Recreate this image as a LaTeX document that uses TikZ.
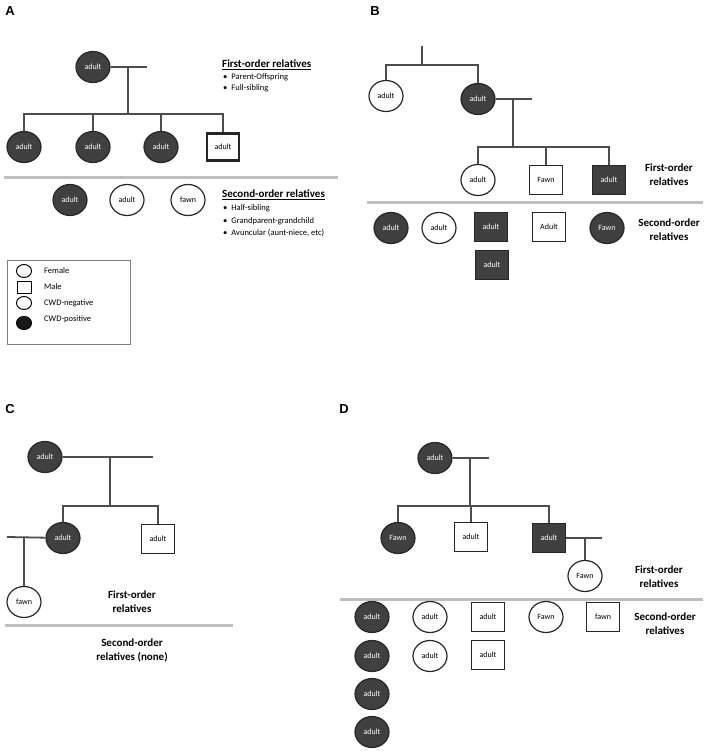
\documentclass[tikz,border=0pt]{standalone}
\usepackage{fontspec}
\setmainfont{Carlito}
\newfontfamily\labfont{Liberation Sans}
\usetikzlibrary{shapes.geometric}
\definecolor{dk}{HTML}{404040}
\definecolor{ln}{HTML}{4D4D4D}
\definecolor{sepc}{HTML}{BFBFBF}
\begin{document}
\begin{tikzpicture}[x=1pt,y=-1pt,
  fem/.style={ellipse, draw=black!85, line width=1.2pt, minimum width=34pt, minimum height=31pt, inner sep=0pt, font=\fontsize{8}{9}\selectfont},
  mal/.style={rectangle, draw=black!85, line width=1.2pt, minimum width=33pt, minimum height=29pt, inner sep=0pt, font=\fontsize{8}{9}\selectfont},
  cpos/.style={fill=dk, text=white},
  cneg/.style={fill=white, text=black},
  con/.style={draw=ln, line width=1.8pt},
  sepline/.style={draw=sepc, line width=3pt},
  panel/.style={font=\labfont\bfseries\fontsize{13}{15}\selectfont, inner sep=0pt},
  head/.style={font=\bfseries\fontsize{11}{14}\selectfont, align=center, inner sep=0pt},
  bul/.style={font=\fontsize{8.5}{10}\selectfont, anchor=west, inner sep=0pt},
  legs/.style={draw=black, line width=1pt, inner sep=0pt, minimum width=15pt, minimum height=13pt}
]
\useasboundingbox (0,0) rectangle (708,752);

% ---------------- Panel A ----------------
\node[panel] (lA) at (10,11) {A};
\node[fem,cpos] (a0) at (93,67) {adult};
\coordinate (a0e) at (147,67);
\coordinate (a0m) at (128,67);
\coordinate (a0s) at (128,114);
\node[fem,cpos] (a1) at (24,147) {adult};
\node[fem,cpos] (a2) at (93,147) {adult};
\node[fem,cpos] (a3) at (161,147) {adult};
\node[mal,cneg,line width=2.8pt,minimum width=32pt,minimum height=27pt] (a4) at (223,147) {adult};
\draw[con] (a0) -- (a0e);
\draw[con] (a0m) -- (a0s);
\draw[con] (a1.north) -- (a1.north |- a0s) -- (a4.north |- a0s) -- (a4.north);
\draw[con] (a2.north) -- (a2.north |- a0s);
\draw[con] (a3.north) -- (a3.north |- a0s);

\node[anchor=west, font=\bfseries\fontsize{11}{13}\selectfont, inner sep=0pt] (hA1) at (222,65) {\underline{First-order relatives}};
\node[bul] (bA1) at (223,77) {\textbullet\hspace{4pt}Parent-Offspring};
\node[bul] (bA2) at (223,88) {\textbullet\hspace{4pt}Full-sibling};

\coordinate (sA1) at (4,177);
\coordinate (sA2) at (338,177);
\draw[sepline] (sA1) -- (sA2);

\node[fem,cpos] (a5) at (70,200) {adult};
\node[fem,cneg] (a6) at (127,200) {adult};
\node[fem,cneg] (a7) at (188,200) {fawn};

\node[anchor=west, font=\bfseries\fontsize{11}{13}\selectfont, inner sep=0pt] (hA2) at (222,195) {\underline{Second-order relatives}};
\node[bul] (bA3) at (223,208) {\textbullet\hspace{4pt}Half-sibling};
\node[bul] (bA4) at (223,221) {\textbullet\hspace{4pt}Grandparent-grandchild};
\node[bul] (bA5) at (223,233) {\textbullet\hspace{4pt}Avuncular (aunt-niece, etc)};

% legend
\node[draw=gray, line width=1pt, minimum width=123pt, minimum height=84pt, anchor=north west, inner sep=0pt] (leg) at (7,260) {};
\node[legs, ellipse] (l1) at (24,271) {};
\node[legs, rectangle, minimum width=14pt, minimum height=12pt] (l2) at (24,287) {};
\node[legs, ellipse] (l3) at (24,303) {};
\node[legs, ellipse, fill=black!90] (l4) at (24,323) {};
\node[bul] (t1) at (44,271) {Female};
\node[bul] (t2) at (44,287) {Male};
\node[bul] (t3) at (44,303) {CWD-negative};
\node[bul] (t4) at (44,319) {CWD-positive};

% ---------------- Panel B ----------------
\node[panel] (lB) at (375,11) {B};
\coordinate (b0t) at (422,46);
\coordinate (b0s) at (422,65);
\node[fem,cneg] (b1) at (386,96) {adult};
\node[fem,cpos] (b2) at (478,99) {adult};
\draw[con] (b0t) -- (b0s);
\draw[con] (b1.north) -- (b1.north |- b0s) -- (b2.north |- b0s) -- (b2.north);
\coordinate (b2e) at (532,99);
\coordinate (b2m) at (513,99);
\coordinate (b2s) at (513,147);
\draw[con] (b2) -- (b2e);
\draw[con] (b2m) -- (b2s);
\node[fem,cneg] (b3) at (478,180) {adult};
\node[mal,cneg] (b4) at (546,180) {Fawn};
\node[mal,cpos] (b5) at (609,180) {adult};
\draw[con] (b3.north) -- (b3.north |- b2s) -- (b5.north |- b2s) -- (b5.north);
\draw[con] (b4.north) -- (b4.north |- b2s);
\node[head] (hB1) at (669,175) {First-order\\relatives};

\coordinate (sB1) at (367,202);
\coordinate (sB2) at (703,202);
\draw[sepline] (sB1) -- (sB2);

\node[fem,cpos] (b6) at (391,228) {adult};
\node[fem,cneg] (b7) at (439,228) {adult};
\node[mal,cpos] (b8) at (491,227) {\raisebox{-4pt}{adult}};
\node[mal,cneg] (b9) at (549,227) {\raisebox{-4pt}{Adult}};
\node[fem,cpos] (b10) at (607,228) {Fawn};
\node[mal,cpos] (b11) at (492,265) {\raisebox{-4pt}{adult}};
\node[head] (hB2) at (669,230) {Second-order\\relatives};

% ---------------- Panel C ----------------
\node[panel] (lC) at (10,409) {C};
\node[fem,cpos] (c0) at (45,457) {adult};
\coordinate (c0e) at (153,457);
\coordinate (c0m) at (110,457);
\coordinate (c0s) at (110,506);
\node[fem,cpos] (c1) at (63,538) {adult};
\node[mal,cneg] (c2) at (158,539) {adult};
\draw[con] (c0) -- (c0e);
\draw[con] (c0m) -- (c0s);
\draw[con] (c1.north) -- (c1.north |- c0s) -- (c2.north |- c0s) -- (c2.north);
\coordinate (c1w) at (7,537);
\coordinate (c1m) at (24,537);
\node[fem,cneg] (c3) at (24,602) {fawn};
\draw[con] (c1) -- (c1w);
\draw[con] (c1m) -- (c3);
\node[head] (hC1) at (132,602) {First-order\\relatives};
\coordinate (sC1) at (5,625);
\coordinate (sC2) at (233,625);
\draw[sepline] (sC1) -- (sC2);
\node[head] (hC2) at (132,650) {Second-order\\relatives (none)};

% ---------------- Panel D ----------------
\node[panel] (lD) at (344,409) {D};
\node[fem,cpos] (d0) at (435,458) {adult};
\coordinate (d0e) at (489,458);
\coordinate (d0m) at (470,458);
\coordinate (d0s) at (470,506);
\node[fem,cpos] (d1) at (398,538) {Fawn};
\node[mal,cneg] (d2) at (471,537) {adult};
\node[mal,cpos] (d3) at (549,538) {adult};
\draw[con] (d0) -- (d0e);
\draw[con] (d0m) -- (d0s);
\draw[con] (d1.north) -- (d1.north |- d0s) -- (d3.north |- d0s) -- (d3.north);
\draw[con] (d2.north) -- (d2.north |- d0s);
\coordinate (d3e) at (602,538);
\coordinate (d3m) at (585,538);
\node[fem,cneg] (d4) at (585,576) {Fawn};
\draw[con] (d3) -- (d3e);
\draw[con] (d3m) -- (d4);
\node[head] (hD1) at (659,577) {First-order\\relatives};
\coordinate (sD1) at (340,599);
\coordinate (sD2) at (703,599);
\draw[sepline] (sD1) -- (sD2);

\node[fem,cpos] (d5) at (372,617) {adult};
\node[fem,cneg] (d6) at (430,617) {adult};
\node[mal,cneg] (d7) at (488,617) {adult};
\node[fem,cneg] (d8) at (546,617) {Fawn};
\node[mal,cneg] (d9) at (603,617) {fawn};
\node[fem,cpos] (d10) at (372,656) {adult};
\node[fem,cneg] (d11) at (430,656) {adult};
\node[mal,cneg] (d12) at (488,655) {adult};
\node[fem,cpos] (d13) at (372,694) {adult};
\node[fem,cpos] (d14) at (372,732) {adult};
\node[head] (hD2) at (665,624) {Second-order\\relatives};
\end{tikzpicture}
\end{document}
